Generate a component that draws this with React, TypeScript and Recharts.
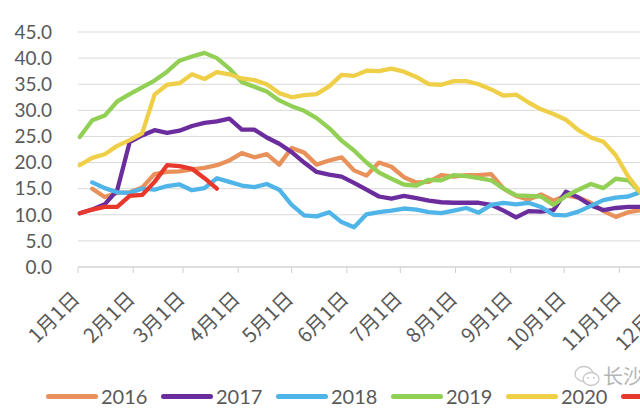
import { CartesianGrid, Line, LineChart, XAxis, YAxis } from "recharts";

// weekly sample days (day of year, Jan 1 = 0)
const weekDays = [
  1, 8, 15, 22, 29, 36, 43, 50, 57, 64, 71, 78, 85, 92, 99, 106, 113, 120,
  127, 134, 141, 148, 155, 162, 169, 176, 183, 190, 197, 204, 211, 218, 225,
  232, 239, 246, 253, 260, 267, 274, 281, 288, 295, 302, 309, 316, 323,
];

const monthStartDays = [0, 31, 59, 90, 120, 151, 181, 212, 243, 273, 304, 334];
const monthLabels = [
  "1月1日", "2月1日", "3月1日", "4月1日", "5月1日", "6月1日",
  "7月1日", "8月1日", "9月1日", "10月1日", "11月1日", "12月1日",
];
const yTicks = [0, 5, 10, 15, 20, 25, 30, 35, 40, 45];

const s2016 = [
  null, 15.0, 13.4, 14.2, 14.3, 15.2, 17.8, 18.2, 18.3, 18.7, 19.0, 19.5,
  20.4, 21.8, 21.0, 21.6, 19.6, 22.8, 21.9, 19.6, 20.4, 21.0, 18.5, 17.5,
  20.0, 19.2, 17.2, 16.2, 16.3, 17.6, 17.3, 17.6, 17.6, 17.8, 15.0, 13.6,
  12.9, 13.9, 12.7, 13.7, 13.3, 12.3, 10.7, 9.6, 10.5, 10.9, 11.0,
];
const s2017 = [
  10.3, 11.0, 12.0, 14.7, 23.9, 25.2, 26.2, 25.7, 26.1, 27.0, 27.6, 27.9,
  28.4, 26.3, 26.3, 24.8, 23.6, 22.0, 20.0, 18.2, 17.7, 17.3, 16.1, 14.8,
  13.5, 13.1, 13.6, 13.2, 12.7, 12.4, 12.3, 12.3, 12.3, 11.9, 10.8, 9.5,
  10.7, 10.6, 10.9, 14.4, 13.3, 11.8, 10.9, 11.3, 11.5, 11.5, 11.3,
];
const s2018 = [
  null, 16.2, 15.1, 14.3, 14.2, 15.0, 14.8, 15.5, 15.8, 14.7, 15.1, 17.0,
  16.3, 15.6, 15.3, 15.9, 14.8, 11.9, 9.9, 9.7, 10.5, 8.6, 7.6, 10.1,
  10.5, 10.8, 11.2, 11.0, 10.5, 10.3, 10.8, 11.3, 10.4, 11.9, 12.3, 12.0,
  12.3, 11.5, 10.0, 9.9, 10.6, 11.7, 12.8, 13.3, 13.5, 14.4, 14.8,
];
const s2019 = [
  24.9, 28.1, 29.0, 31.7, 33.1, 34.4, 35.7, 37.4, 39.5, 40.3, 41.0, 40.0,
  38.0, 35.4, 34.5, 33.6, 31.9, 30.8, 29.9, 28.5, 26.6, 24.2, 22.3, 20.0,
  18.1, 16.9, 15.8, 15.6, 16.7, 16.6, 17.6, 17.4, 17.0, 16.6, 15.0, 13.7,
  13.6, 13.5, 11.9, 13.6, 14.8, 15.9, 15.1, 16.9, 16.6, 14.2, 12.5,
];
const s2020 = [
  19.5, 20.9, 21.6, 23.2, 24.3, 25.6, 33.0, 34.9, 35.2, 36.9, 36.0, 37.3,
  36.9, 36.1, 35.8, 35.0, 33.3, 32.5, 32.9, 33.1, 34.6, 36.8, 36.6, 37.6,
  37.5, 38.0, 37.4, 36.4, 35.0, 34.9, 35.6, 35.6, 35.0, 34.0, 32.8, 33.0,
  31.5, 30.2, 29.3, 28.2, 26.2, 24.8, 24.0, 21.4, 17.3, 14.2, 11.5,
];
const s2021 = [10.3, 11.0, 11.5, 11.5, 13.6, 13.8, 16.3, 19.5, 19.3, 18.8, 17.0, 15.0];

const seriesNames = ["2016", "2017", "2018", "2019", "2020", "2021"];
const seriesColors = ["#E9915A", "#6B2D9E", "#4FB4E8", "#92CF55", "#F0CF48", "#E8382C"];
const seriesValues = [s2016, s2017, s2018, s2019, s2020, s2021];

const textColor = "#595959";

function MonthTick(props: any) {
  const { x, y, payload } = props;
  const idx = monthStartDays.indexOf(payload.value);
  const ax = x + 3;
  const ay = y + 25;
  return (
    <text
      x={ax}
      y={ay}
      transform={`rotate(-45, ${ax}, ${ay})`}
      textAnchor="end"
      fill={textColor}
      fontSize={20}
      fontFamily="'Noto Sans CJK SC', sans-serif"
    >
      {monthLabels[idx]}
    </text>
  );
}

export default function App() {
  const rows = weekDays.map((day, i) => {
    const row: Record<string, number | null> = { day };
    seriesNames.forEach((name, k) => {
      const v = seriesValues[k][i];
      row["y" + name] = v === undefined ? null : v;
    });
    return row;
  });

  return (
    <div
      style={{
        position: "absolute",
        left: 0,
        top: 0,
        width: 640,
        height: 411,
        overflow: "hidden",
        background: "#fff",
        fontFamily: "Lato, sans-serif",
      }}
    >
      <LineChart
        width={760}
        height={411}
        data={rows}
        margin={{ top: 32, right: 32, bottom: 0, left: 0 }}
      >
        <CartesianGrid vertical={false} stroke="#d9d9d9" />
        <XAxis
          dataKey="day"
          type="number"
          domain={[0, 365]}
          ticks={monthStartDays}
          interval={0}
          height={144}
          stroke="#d0d0d0"
          tickSize={6}
          tick={<MonthTick />}
        />
        <YAxis
          domain={[0, 45]}
          ticks={yTicks}
          interval={0}
          width={78}
          axisLine={false}
          tickLine={false}
          tickMargin={20}
          tickFormatter={(v: number) => v.toFixed(1)}
          tick={{ fill: textColor, fontSize: 19, fontFamily: "Lato" }}
        />
        {seriesNames.map((name, k) => (
          <Line
            key={name}
            dataKey={"y" + name}
            type="linear"
            stroke={seriesColors[k]}
            strokeWidth={4.3}
            strokeLinejoin="round"
            strokeLinecap="round"
            dot={false}
            activeDot={false}
            isAnimationActive={false}
          />
        ))}
      </LineChart>

      <div style={{ position: "absolute", left: 46, top: 384, display: "flex" }}>
        {seriesNames.map((name, k) => (
          <div
            key={name}
            style={{ width: 115, display: "flex", alignItems: "center", flexShrink: 0 }}
          >
            <span
              style={{
                width: 52,
                height: 5,
                borderRadius: 3,
                background: seriesColors[k],
                marginRight: 3,
              }}
            />
            <span style={{ fontSize: 20, color: textColor, lineHeight: "24px" }}>
              {name}
            </span>
          </div>
        ))}
      </div>

      <svg
        style={{ position: "absolute", left: 574, top: 364 }}
        width={28}
        height={24}
      >
        <ellipse cx={10} cy={10} rx={9} ry={7.5} fill="none" stroke="#c8c8c8" strokeWidth={1.3} />
        <ellipse cx={17} cy={15} rx={8} ry={6.5} fill="#fff" stroke="#c8c8c8" strokeWidth={1.3} />
        <circle cx={14} cy={14} r={1} fill="#c8c8c8" />
        <circle cx={20} cy={14} r={1} fill="#c8c8c8" />
      </svg>
      <div
        style={{
          position: "absolute",
          left: 603,
          top: 361,
          fontSize: 20,
          color: "#b5b5b5",
          fontFamily: "'Noto Sans CJK SC', sans-serif",
          whiteSpace: "nowrap",
        }}
      >
        长沙
      </div>
    </div>
  );
}
